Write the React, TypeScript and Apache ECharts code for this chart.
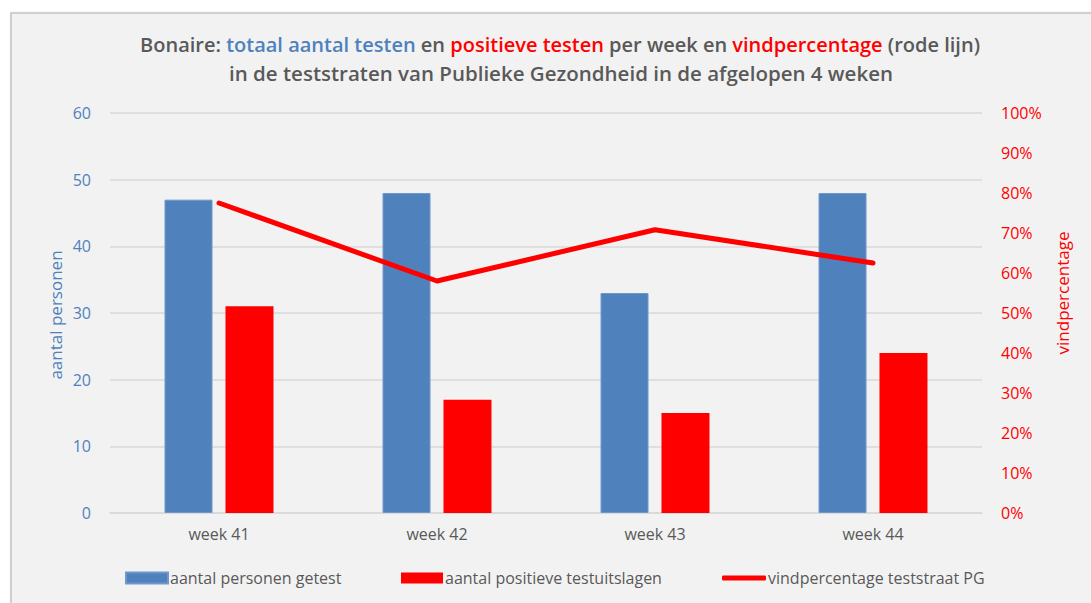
import React, { useEffect, useRef } from "react";
import * as echarts from "echarts";

const categories = ["week 41", "week 42", "week 43", "week 44"];
const tested = [47, 48, 33, 48];
const positives = [31, 17, 15, 24];
const findRate = [77.5, 58, 70.8, 62.5];
const leftTicks = { min: 0, max: 60, interval: 10 };
const rightTicks = { min: 0, max: 100, interval: 10 };

const BLUE = "#4f81bd";
const RED = "#ff0000";
const GRAY = "#595959";
const FONT = "Open Sans";

export default function App() {
  const ref = useRef<HTMLDivElement>(null);
  useEffect(() => {
    if (!ref.current) return;
    const chart = echarts.init(ref.current, null, { renderer: "svg" });
    chart.setOption({
      animation: false,
      backgroundColor: "#ffffff",
      textStyle: { fontFamily: FONT },
      grid: { left: 110, right: 109, top: 113, bottom: 90 },
      graphic: [
        {
          type: "rect",
          z: -10,
          shape: { x: 11, y: 13, width: 1100, height: 620 },
          style: {
            fill: "#f2f2f2",
            stroke: "#c4c4c4",
            lineWidth: 1.5,
            shadowBlur: 3,
            shadowColor: "rgba(0,0,0,0.2)",
            shadowOffsetX: 1,
            shadowOffsetY: 1,
          },
        },
        {
          type: "text",
          x: 560,
          y: 44,
          style: {
            text:
              "{g|Bonaire: }{b|totaal aantal testen}{g| en }{r|positieve testen}{g| per week en }{r|vindpercentage}{g| (rode lijn)}",
            align: "center",
            verticalAlign: "middle",
            rich: {
              g: { fill: GRAY, fontSize: 20, fontWeight: 600, fontFamily: FONT },
              b: { fill: BLUE, fontSize: 20, fontWeight: 600, fontFamily: FONT },
              r: { fill: RED, fontSize: 20, fontWeight: 600, fontFamily: FONT },
            },
          },
        },
        {
          type: "text",
          x: 561,
          y: 73,
          style: {
            text: "in de teststraten van Publieke Gezondheid in de afgelopen 4 weken",
            align: "center",
            verticalAlign: "middle",
            fill: GRAY,
            fontSize: 20.5,
            fontWeight: 600,
            fontFamily: FONT,
          },
        },
        {
          type: "text",
          x: 55,
          y: 315,
          rotation: Math.PI / 2,
          style: {
            text: "aantal personen",
            align: "center",
            verticalAlign: "middle",
            fill: BLUE,
            fontSize: 17,
            fontFamily: FONT,
          },
        },
        {
          type: "text",
          x: 1062,
          y: 293,
          rotation: Math.PI / 2,
          style: {
            text: "vindpercentage",
            align: "center",
            verticalAlign: "middle",
            fill: RED,
            fontSize: 17,
            fontFamily: FONT,
          },
        },
      ],
      legend: [
        {
          data: [{ name: "aantal personen getest", icon: "rect" }],
          left: 125,
          top: 570,
          padding: 0,
          itemWidth: 42,
          itemHeight: 11,
          textStyle: { color: GRAY, fontSize: 16, fontFamily: FONT, padding: [0, 0, 0, -3] },
        },
        {
          data: [{ name: "aantal positieve testuitslagen", icon: "rect" }],
          left: 401,
          top: 570,
          padding: 0,
          itemWidth: 42,
          itemHeight: 11,
          textStyle: { color: GRAY, fontSize: 16, fontFamily: FONT, padding: [0, 0, 0, -3] },
        },
        {
          data: [{ name: "vindpercentage teststraat PG", icon: "roundRect" }],
          left: 722,
          top: 570,
          padding: 0,
          itemWidth: 44,
          itemHeight: 5,
          textStyle: { color: GRAY, fontSize: 16, fontFamily: FONT, padding: [0, 0, 0, -3] },
        },
      ],
      xAxis: {
        type: "category",
        data: categories,
        axisLine: { lineStyle: { color: "#d9d9d9", width: 1.5 } },
        axisTick: { show: false },
        axisLabel: { color: GRAY, fontSize: 16, margin: 13, fontFamily: FONT },
      },
      yAxis: [
        {
          type: "value",
          min: leftTicks.min,
          max: leftTicks.max,
          interval: leftTicks.interval,
          axisLine: { show: false },
          axisTick: { show: false },
          axisLabel: { color: BLUE, fontSize: 16, margin: 19, fontFamily: FONT },
          splitLine: { lineStyle: { color: "#d9d9d9", width: 1.5 } },
        },
        {
          type: "value",
          position: "right",
          min: rightTicks.min,
          max: rightTicks.max,
          interval: rightTicks.interval,
          axisLine: { show: false },
          axisTick: { show: false },
          splitLine: { show: false },
          axisLabel: { color: RED, fontSize: 16, margin: 19, formatter: "{value}%", fontFamily: FONT },
        },
      ],
      series: [
        {
          name: "aantal personen getest",
          type: "bar",
          data: tested,
          barWidth: 48,
          barGap: "27%",
          itemStyle: { color: BLUE, borderColor: "#6f97cb", borderWidth: 1 },
        },
        {
          name: "aantal positieve testuitslagen",
          type: "bar",
          data: positives,
          barWidth: 48,
          itemStyle: { color: RED },
        },
        {
          name: "vindpercentage teststraat PG",
          type: "line",
          yAxisIndex: 1,
          data: findRate,
          symbol: "none",
          lineStyle: { color: RED, width: 5, cap: "round", join: "round" },
          itemStyle: { color: RED },
        },
      ],
    });
    return () => chart.dispose();
  }, []);
  return (
    <div
      ref={ref}
      style={{ position: "fixed", left: 0, top: 0, width: 1091, height: 603 }}
    />
  );
}
